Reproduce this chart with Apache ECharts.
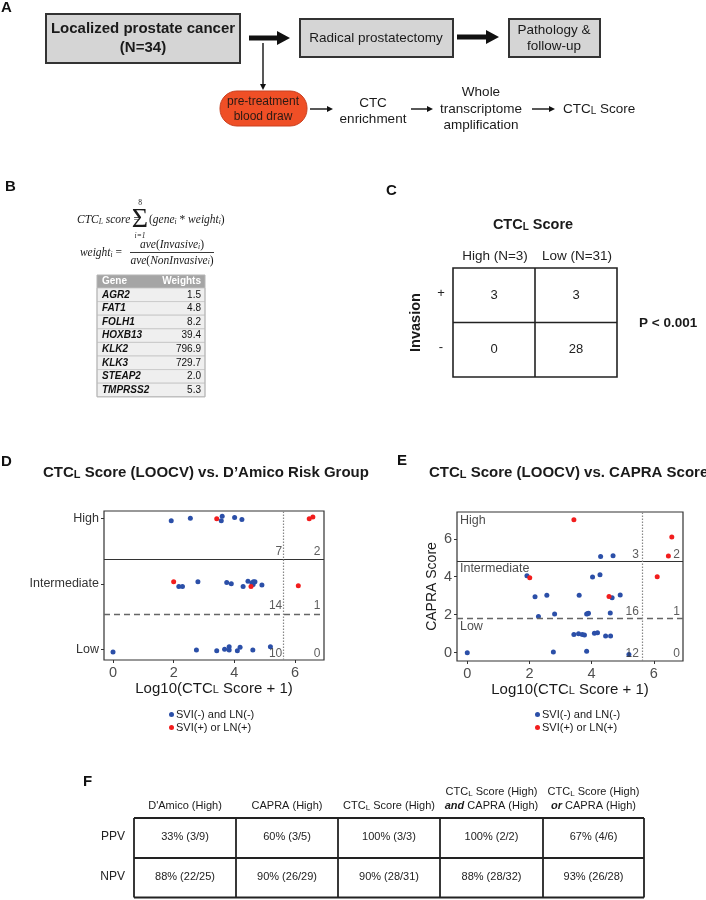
<!DOCTYPE html>
<html><head><meta charset="utf-8">
<script src="https://cdn.jsdelivr.net/npm/echarts@6/dist/echarts.min.js"></script>
<style>html,body{margin:0;padding:0;background:#fff}#c{width:706px;height:900px}</style>
</head><body><div id="c"></div><script>
const FONT = "'Liberation Sans', Arial, Helvetica, sans-serif";
const SERIF = "'Liberation Serif', 'Times New Roman', serif";

// ---------- Panel D : CTC-L score vs D'Amico risk group ----------
const damicoCategories = ['Low', 'Intermediate', 'High'];
const damicoBlue = [
  [1.92, 2.96], [2.55, 3.00], [3.57, 2.96], [3.60, 3.03], [4.01, 3.01], [4.25, 2.98],
  [2.17, 1.96], [2.29, 1.96], [2.80, 2.03], [3.75, 2.02], [3.90, 2.00], [4.29, 1.96],
  [4.45, 2.04], [4.58, 2.01], [4.63, 2.03], [4.68, 2.03], [4.62, 1.99], [4.91, 1.98],
  [0.00, 0.96], [2.75, 0.99], [3.42, 0.98], [3.68, 1.00], [3.83, 1.04], [3.83, 0.99],
  [4.10, 0.98], [4.19, 1.03], [4.61, 0.99], [5.19, 1.04]
];
const damicoRed = [[3.42, 2.99], [6.47, 2.99], [6.59, 3.02], [2.00, 2.03], [4.55, 1.96], [6.11, 1.97]];
const damicoCounts = [[5.58, 2.49, '7'], [6.84, 2.49, '2'], [5.58, 1.66, '14'], [6.84, 1.66, '1'], [5.58, 0.94, '10'], [6.84, 0.94, '0']];
const damicoHighCut = 2.38, damicoLowCut = 1.54, damicoScoreCut = 5.61;

// ---------- Panel E : CTC-L score vs CAPRA score ----------
const capraBlue = [
  [4.29, 5.07], [4.69, 5.10], [1.92, 4.05], [4.03, 3.98], [4.27, 4.10],
  [2.18, 2.95], [2.56, 3.02], [3.60, 3.02], [4.66, 2.89], [4.92, 3.04],
  [2.29, 1.91], [2.81, 2.04], [3.84, 2.04], [3.90, 2.07], [3.87, 2.05], [4.60, 2.09],
  [3.43, 0.96], [3.58, 1.00], [3.70, 0.96], [3.77, 0.93], [4.09, 1.02], [4.19, 1.05],
  [4.45, 0.88], [4.61, 0.88], [0.00, 0.00], [2.77, 0.04], [3.84, 0.07], [5.20, -0.10]
];
const capraRed = [[3.43, 7.00], [6.58, 6.09], [6.47, 5.09], [2.01, 3.95], [6.11, 4.00], [4.56, 2.96]];
const capraCounts = [[5.52, 5.18, '3'], [6.84, 5.18, '2'], [5.52, 2.14, '16'], [6.84, 2.14, '1'], [5.52, -0.03, '12'], [6.84, -0.03, '0']];
const capraZones = [[-0.235, 6.95, 'High'], [-0.235, 4.41, 'Intermediate'], [-0.235, 1.37, 'Low']];
const capraHighCut = 4.83, capraLowCut = 1.79, capraScoreCut = 5.63;
const xTickValues = [0, 2, 4, 6];
const capraTickValues = [0, 2, 4, 6];
const legendNames = ['SVI(-) and LN(-)', 'SVI(+) or LN(+)'];

// ---------- Panel B : gene weights ----------
const geneNames = ['AGR2', 'FAT1', 'FOLH1', 'HOXB13', 'KLK2', 'KLK3', 'STEAP2', 'TMPRSS2'];
const geneWeights = ['1.5', '4.8', '8.2', '39.4', '796.9', '729.7', '2.0', '5.3'];

// ---------- Panel C : contingency ----------
const ctcGroups = ['High (N=3)', 'Low (N=31)'];
const invasionRows = ['+', '-'];
const contingency = [[3, 3], [0, 28]];

// ---------- Panel F : PPV / NPV ----------
const fRowNames = ['PPV', 'NPV'];
const ppvValues = ['33% (3/9)', '60% (3/5)', '100% (3/3)', '100% (2/2)', '67% (4/6)'];
const npvValues = ['88% (22/25)', '90% (26/29)', '90% (28/31)', '88% (28/32)', '93% (26/28)'];

const BLUE = '#2b4fa8', RED = '#f21d1d', INK = '#1a1a1a';

// ---------------- graphic helpers ----------------
const G = [];
function font(size, weight, style, fam) { return `${style || 'normal'} ${weight || 'normal'} ${size}px ${fam || FONT}`; }
function txt(x, y, text, o) {
  o = o || {};
  const st = { text, fill: o.color || INK, font: font(o.size || 12, o.weight, o.fstyle, o.family), align: o.align || 'center', verticalAlign: o.va || 'middle' };
  if (o.rich) st.rich = o.rich;
  G.push({ type: 'text', x, y, rotation: o.rot || 0, silent: true, z: 10, style: st });
}
function tok(size, weight, fstyle, fam, color) {
  return { fontSize: size, fontFamily: fam || FONT, fontWeight: weight || 'normal', fontStyle: fstyle || 'normal', fill: color || INK, verticalAlign: 'bottom' };
}
function ctcRich(size, weight) { return { n: tok(size, weight), s: tok(Math.round(size * 0.72), weight), bi: tok(size, 'bold', 'italic') }; }
function rect(x, y, w, h, fill, stroke, lw, r) {
  G.push({ type: 'rect', silent: true, z: 5, shape: { x, y, width: w, height: h, r: r || 0 }, style: { fill: fill || 'none', stroke: stroke || null, lineWidth: lw || 0 } });
}
function line(x1, y1, x2, y2, color, lw, dash) {
  G.push({ type: 'line', silent: true, z: 6, shape: { x1, y1, x2, y2 }, style: { stroke: color || INK, lineWidth: lw || 1, lineDash: dash || null } });
}
function poly(points, fill) { G.push({ type: 'polygon', silent: true, z: 6, shape: { points }, style: { fill } }); }
function thickArrow(x1, x2, y) {
  const hl = 13, hh = 7, sh = 2.6;
  poly([[x1, y - sh], [x2 - hl, y - sh], [x2 - hl, y - hh], [x2, y], [x2 - hl, y + hh], [x2 - hl, y + sh], [x1, y + sh]], '#111');
}
function thinArrowH(x1, x2, y) { line(x1, y, x2 - 4, y, '#111', 1.4); poly([[x2 - 6, y - 3], [x2, y], [x2 - 6, y + 3]], '#111'); }
function thinArrowV(x, y1, y2) { line(x, y1, x, y2 - 4, '#111', 1.4); poly([[x - 3, y2 - 6], [x, y2], [x + 3, y2 - 6]], '#111'); }

// panel letters
[['A', 1, 8], ['B', 5, 187], ['C', 386, 191], ['D', 1, 462], ['E', 397, 461], ['F', 83, 782]].forEach(p => txt(p[1], p[2], p[0], { size: 15, weight: 'bold', align: 'left', color: '#111' }));

// ---------------- Panel A ----------------
rect(46, 14, 194, 49, '#d5d5d5', '#333', 2);
txt(143, 29, 'Localized prostate cancer', { size: 15, weight: 'bold' });
txt(143, 48, '(N=34)', { size: 15, weight: 'bold' });
thickArrow(249, 290, 38);
rect(300, 19, 153, 38, '#d5d5d5', '#333', 2);
txt(376, 38, 'Radical prostatectomy', { size: 13.5 });
thickArrow(457, 499, 37);
rect(509, 19, 91, 38, '#d5d5d5', '#333', 2);
txt(554, 30, 'Pathology &', { size: 13.5 });
txt(554, 46, 'follow-up', { size: 13.5 });
thinArrowV(263, 43, 90);
rect(220, 91, 87, 35, '#ef4f26', '#c94020', 1, 17);
txt(263, 101.5, 'pre-treatment', { size: 12, color: '#2a1a14' });
txt(263, 116.5, 'blood draw', { size: 12, color: '#2a1a14' });
thinArrowH(310, 333, 109);
txt(373, 103, 'CTC', { size: 13.5 });
txt(373, 119, 'enrichment', { size: 13.5 });
thinArrowH(411, 433, 109);
txt(481, 92, 'Whole', { size: 13.5 });
txt(481, 109, 'transcriptome', { size: 13.5 });
txt(481, 125, 'amplification', { size: 13.5 });
thinArrowH(532, 555, 109);
txt(563, 109, '{n|CTC}{s|L}{n| Score}', { size: 13.5, align: 'left', rich: ctcRich(13.5) });

// ---------------- Panel B ----------------
const mi = 11.5, ms = 7.5;
const mRich = { i: tok(mi, 'normal', 'italic', SERIF), r: tok(mi, 'normal', 'normal', SERIF), s: tok(ms, 'normal', 'italic', SERIF) };
txt(77, 220, '{i|CTC}{s|L}{i| score} {r|=}', { align: 'left', rich: mRich });
txt(140, 219.5, '\u03A3', { size: 28, family: SERIF });
txt(140, 203, '8', { size: 7.5, family: SERIF });
txt(140, 236.5, 'i=1', { size: 7.5, family: SERIF, fstyle: 'italic' });
txt(149, 220, '{r|(}{i|gene}{s|i}{r| * }{i|weight}{s|i}{r|)}', { align: 'left', rich: mRich });
txt(122, 253, '{i|weight}{s|i}{r| =}', { align: 'right', rich: mRich });
txt(172, 245, '{i|ave}{r|(}{i|Invasive}{s|i}{r|)}', { align: 'center', rich: mRich });
line(130, 252.5, 214, 252.5, '#222', 0.9);
txt(172, 260.5, '{i|ave}{r|(}{i|NonInvasive}{s|i}{r|)}', { align: 'center', rich: mRich });

const tbX = 97, tbW = 108, tbTop = 275, hdrH = 13, rowH = 13.6;
rect(tbX, tbTop, tbW, hdrH, '#a5a5a5');
txt(tbX + 5, tbTop + hdrH / 2, 'Gene', { size: 10, weight: 'bold', color: '#fff', align: 'left' });
txt(tbX + tbW - 4, tbTop + hdrH / 2, 'Weights', { size: 10, weight: 'bold', color: '#fff', align: 'right' });
geneNames.forEach((g, i) => {
  const y = tbTop + hdrH + i * rowH;
  rect(tbX, y, tbW, rowH, '#efefef', '#c4c4c4', 0.8);
  txt(tbX + 5, y + rowH / 2, g, { size: 10, weight: 'bold', fstyle: 'italic', align: 'left', color: '#111' });
  txt(tbX + tbW - 4, y + rowH / 2, geneWeights[i], { size: 10, align: 'right', color: '#111' });
});
rect(tbX, tbTop, tbW, hdrH + geneNames.length * rowH, null, '#b5b5b5', 1);

// ---------------- Panel C ----------------
txt(533, 225, '{n|CTC}{s|L}{n| Score}', { rich: ctcRich(14.5, 'bold') });
const cL = 453, cT = 268, cW = 82, cH = 54.5;
ctcGroups.forEach((g, j) => txt(cL + cW * j + cW / 2 + 1, 256, g, { size: 13.5, color: '#222' }));
contingency.forEach((row, i) => {
  txt(441, cT + cH * i + cH / 2 - 2, invasionRows[i], { size: 13, color: '#222' });
  row.forEach((v, j) => txt(cL + cW * j + cW / 2, cT + cH * i + cH / 2, String(v), { size: 13, color: '#222' }));
});
rect(cL, cT, cW * 2, cH * 2, null, '#222', 1.6);
line(cL + cW, cT, cL + cW, cT + cH * 2, '#222', 1.6);
line(cL, cT + cH, cL + cW * 2, cT + cH, '#222', 1.6);
txt(416, cT + cH, 'Invasion', { size: 14.5, weight: 'bold', rot: Math.PI / 2 });
txt(639, 323, 'P < 0.001', { size: 13.5, weight: 'bold', align: 'left' });

// ---------------- Panel F ----------------
const fX = [134, 236, 338, 440, 543, 644], fY = [818, 858, 897.5];
const fHeaders = [
  [null, "D'Amico (High)"],
  [null, 'CAPRA (High)'],
  [null, '{n|CTC}{s|L}{n| Score (High)}'],
  ['{n|CTC}{s|L}{n| Score (High)}', '{bi|and}{n| CAPRA (High)}'],
  ['{n|CTC}{s|L}{n| Score (High)}', '{bi|or}{n| CAPRA (High)}']
];
fHeaders.forEach((h, j) => {
  const cx = (fX[j] + fX[j + 1]) / 2;
  if (h[0]) txt(cx, 792, h[0], { size: 11, rich: ctcRich(11) });
  txt(cx, 806, h[1], { size: 11, rich: ctcRich(11) });
});
[ppvValues, npvValues].forEach((vals, i) => {
  const cy = (fY[i] + fY[i + 1]) / 2 - 1;
  txt(125, cy, fRowNames[i], { size: 12, align: 'right', color: '#222' });
  vals.forEach((v, j) => txt((fX[j] + fX[j + 1]) / 2, cy, v, { size: 11, color: '#222' }));
});
fY.forEach(y => line(fX[0], y, fX[5], y, '#222', 1.8));
fX.forEach(x => line(x, fY[0], x, fY[2], '#222', 1.8));

// ---------------- ECharts scatter panels ----------------
const axisRich = { n: { fontSize: 15, fontFamily: FONT, color: INK, verticalAlign: 'bottom' }, s: { fontSize: 11, fontFamily: FONT, color: INK, verticalAlign: 'bottom' } };
function xAxisCfg(gi, min, max) {
  return {
    gridIndex: gi, type: 'value', min, max, position: 'bottom',
    splitLine: { show: false }, axisLine: { show: false, onZero: false },
    axisTick: { show: true, inside: false, length: 3, lineStyle: { color: '#333', width: 1 }, customValues: xTickValues },
    axisLabel: { customValues: xTickValues, color: '#4d4d4d', fontSize: 14.5, fontFamily: FONT, margin: 5 },
    name: '{n|Log10(CTC}{s|L}{n| Score + 1)}', nameLocation: 'middle', nameGap: 19,
    nameTextStyle: { rich: axisRich }
  };
}
function pointSeries(name, data, color, gi) {
  return { type: 'scatter', name, xAxisIndex: gi, yAxisIndex: gi, data, symbolSize: 5, itemStyle: { color, opacity: 1 }, emphasis: { disabled: true }, z: 4 };
}
function cutSeries(gi, hi, lo, sc) {
  return {
    type: 'scatter', name: 'cuts' + gi, xAxisIndex: gi, yAxisIndex: gi, data: [], z: 2,
    markLine: {
      silent: true, symbol: ['none', 'none'], label: { show: false }, animation: false,
      data: [
        { yAxis: hi, lineStyle: { color: '#333', width: 1.2, type: 'solid' } },
        { yAxis: lo, lineStyle: { color: '#666', width: 1.4, type: [6, 4] } },
        { xAxis: sc, lineStyle: { color: '#888', width: 1.2, type: [1.5, 1.5] } }
      ]
    }
  };
}
function labelSeries(gi, rows, pos, size, color) {
  return {
    type: 'scatter', name: 'lab' + gi + pos, xAxisIndex: gi, yAxisIndex: gi, symbolSize: 0, z: 5,
    data: rows.map(r => ({ name: r[2], value: [r[0], r[1]] })),
    label: { show: true, position: pos, distance: 0, formatter: '{b}', fontSize: size, fontFamily: FONT, color },
    emphasis: { disabled: true }
  };
}
const titleRich = { n: { fontSize: 15, fontWeight: 'bold', fontFamily: FONT, color: INK, verticalAlign: 'bottom' }, s: { fontSize: 11, fontWeight: 'bold', fontFamily: FONT, color: INK, verticalAlign: 'bottom' } };

const option = {
  animation: false,
  backgroundColor: '#fff',
  textStyle: { fontFamily: FONT },
  title: [
    { text: '{n|CTC}{s|L}{n| Score (LOOCV) vs. D\u2019Amico Risk Group}', left: 43, top: 465, padding: 0, textStyle: { rich: titleRich } },
    { text: '{n|CTC}{s|L}{n| Score (LOOCV) vs. CAPRA Score}', left: 429, top: 465, padding: 0, textStyle: { rich: titleRich } }
  ],
  legend: [
    { data: legendNames, orient: 'vertical', left: 169, top: 709, itemWidth: 5, itemHeight: 5, itemGap: 2, icon: 'circle', selectedMode: false, padding: 0,
      textStyle: { fontSize: 11, color: INK, fontFamily: FONT, padding: [0, 0, 0, -3] } },
    { data: legendNames, orient: 'vertical', left: 535, top: 709, itemWidth: 5, itemHeight: 5, itemGap: 2, icon: 'circle', selectedMode: false, padding: 0,
      textStyle: { fontSize: 11, color: INK, fontFamily: FONT, padding: [0, 0, 0, -3] } }
  ],
  grid: [
    { left: 104, top: 511, width: 220, height: 149, show: true, borderColor: '#333', borderWidth: 1.2, backgroundColor: 'transparent' },
    { left: 457, top: 512, width: 226, height: 149, show: true, borderColor: '#333', borderWidth: 1.2, backgroundColor: 'transparent' }
  ],
  xAxis: [xAxisCfg(0, -0.297, 6.957), xAxisCfg(1, -0.33, 6.94)],
  yAxis: [
    { gridIndex: 0, type: 'value', min: 0.837, max: 3.11, position: 'left', splitLine: { show: false }, axisLine: { show: false, onZero: false },
      axisTick: { show: true, inside: false, length: 3, lineStyle: { color: '#333' }, customValues: [1, 2, 3] },
      axisLabel: { customValues: [1, 2, 3], formatter: v => damicoCategories[Math.round(v) - 1], color: '#333', fontSize: 12.5, fontFamily: FONT, margin: 5 } },
    { gridIndex: 1, type: 'value', min: -0.44, max: 7.41, position: 'left', splitLine: { show: false }, axisLine: { show: false, onZero: false },
      axisTick: { show: true, inside: false, length: 3, lineStyle: { color: '#333' }, customValues: capraTickValues },
      axisLabel: { customValues: capraTickValues, color: '#4d4d4d', fontSize: 14.5, fontFamily: FONT, margin: 5 },
      name: 'CAPRA Score', nameLocation: 'middle', nameGap: 18, nameTextStyle: { fontSize: 14, color: INK, fontFamily: FONT } }
  ],
  series: [
    cutSeries(0, damicoHighCut, damicoLowCut, damicoScoreCut),
    cutSeries(1, capraHighCut, capraLowCut, capraScoreCut),
    pointSeries(legendNames[0], damicoBlue, BLUE, 0),
    pointSeries(legendNames[1], damicoRed, RED, 0),
    pointSeries(legendNames[0], capraBlue, BLUE, 1),
    pointSeries(legendNames[1], capraRed, RED, 1),
    labelSeries(0, damicoCounts, 'left', 12, '#333'),
    labelSeries(1, capraCounts, 'left', 12, '#333'),
    labelSeries(1, capraZones, 'right', 12.5, INK)
  ],
  graphic: { elements: G }
};
const chart = echarts.init(document.getElementById('c'), null, { renderer: 'canvas', width: 706, height: 900 });
chart.setOption(option);
</script></body></html>
